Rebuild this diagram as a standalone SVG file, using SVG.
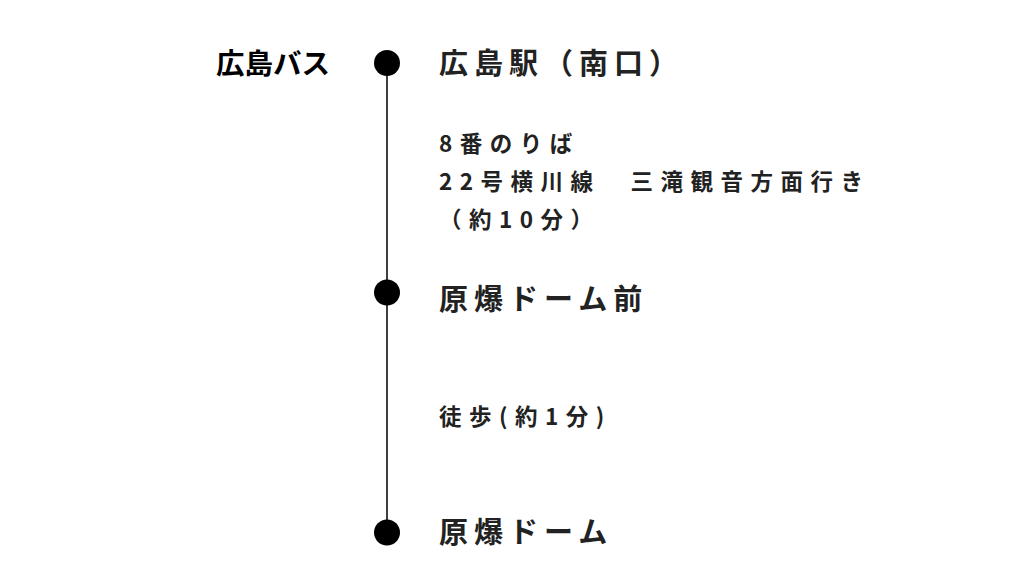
<svg xmlns="http://www.w3.org/2000/svg" width="1024" height="573" viewBox="0 0 1024 573">
<style>
.t{font-family:"Noto Sans CJK JP","Noto Sans",sans-serif;font-weight:bold;fill:#222;}
.h{font-size:29px;letter-spacing:6px;}
.s{font-size:22.5px;letter-spacing:7.5px;}
.l{font-family:"Noto Sans CJK JP","Noto Sans",sans-serif;font-weight:bold;font-size:28.5px;fill:#000;}
.dot{fill:#000;}
</style>
<rect width="1024" height="573" fill="#fff"/>
<g id="connectors">
<line x1="387" y1="63" x2="387" y2="532" stroke="#000" stroke-width="1.5"/>
</g>
<g id="label-bus"><text class="l" x="216" y="74">広島バス</text></g>
<g id="node-hiroshima-station">
<circle class="dot" cx="387" cy="63" r="13"/>
<text class="t h" x="439" y="74">広島駅（南口）</text>
</g>
<g id="bus-info">
<text class="t s" x="439" y="152">8番のりば</text>
<text class="t s" x="439" y="190">22号横川線　三滝観音方面行き</text>
<text class="t s" x="439" y="228">（約10分）</text>
</g>
<g id="node-genbaku-dome-mae">
<circle class="dot" cx="387" cy="292.5" r="13"/>
<text class="t h" x="439" y="310">原爆ドーム前</text>
</g>
<g id="walk-info">
<text class="t s" x="439" y="425">徒歩(約1分)</text>
</g>
<g id="node-genbaku-dome">
<circle class="dot" cx="387" cy="532.5" r="13"/>
<text class="t h" x="439" y="543">原爆ドーム</text>
</g>
</svg>
